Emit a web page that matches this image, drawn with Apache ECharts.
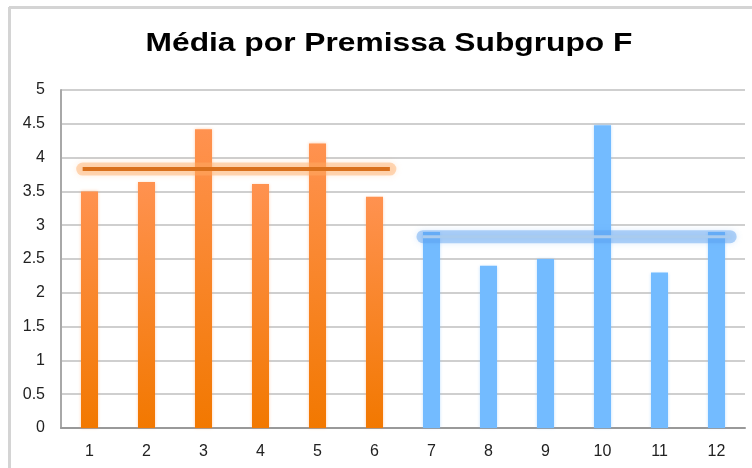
<!DOCTYPE html>
<html><head><meta charset="utf-8">
<script src="https://cdn.jsdelivr.net/npm/echarts@6/dist/echarts.min.js"></script>
<style>html,body{margin:0;padding:0;background:#fff}#c{width:752px;height:468px}</style>
</head><body><div id="c"></div>
<script>
var titleText = 'Média por Premissa Subgrupo F';
var categories = ['1','2','3','4','5','6','7','8','9','10','11','12'];
var groupA = [3.50, 3.64, 4.42, 3.61, 4.21, 3.42, null, null, null, null, null, null];
var groupB = [null, null, null, null, null, null, 2.90, 2.40, 2.50, 4.48, 2.30, 2.90];
var meanA = 3.83, meanB = 2.83;
var meanASpan = [-0.12, 5.27];
var meanBSpan = [5.85, 11.24];
var yTicks = [0, 0.5, 1, 1.5, 2, 2.5, 3, 3.5, 4, 4.5, 5];

var chart = echarts.init(document.getElementById('c'), null, {renderer:'canvas'});
var font = 'Liberation Sans, Arial, sans-serif';
function meanLine(span, val, glow, core, coreW){
  var d = [[span[0], val],[span[1], val]];
  return [
    {type:'line', xAxisIndex:1, data:d, symbol:'none', silent:true, z:5,
     lineStyle:{color:glow, width:13, cap:'round', shadowBlur:6, shadowColor:glow}},
    {type:'line', xAxisIndex:1, data:d, symbol:'none', silent:true, z:6,
     lineStyle:{color:core, width:coreW, cap:'butt'}}
  ];
}
var series = [
  {type:'bar', data:groupA, barWidth:17, barGap:'-100%', z:3,
   itemStyle:{color:new echarts.graphic.LinearGradient(0,0,0,1,[{offset:0,color:'#FF9250'},{offset:1,color:'#F27800'}]),
     shadowBlur:3, shadowColor:'rgba(255,150,80,0.45)'}},
  {type:'bar', data:groupB, barWidth:17, barGap:'-100%', z:3,
   itemStyle:{color:'#73BBFF', shadowBlur:3, shadowColor:'rgba(115,187,255,0.45)'}}
].concat(meanLine(meanASpan, meanA, 'rgba(255,170,100,0.45)', '#D9701C', 4))
 .concat(meanLine(meanBSpan, meanB, 'rgba(90,160,240,0.45)', '#A9CBEE', 3));

chart.setOption({
  animation:false,
  backgroundColor:'#fff',
  graphic:[
    {type:'line', shape:{x1:9,y1:7.5,x2:752,y2:7.5}, style:{stroke:'#D4D4D4', lineWidth:3}},
    {type:'line', shape:{x1:9.5,y1:7,x2:9.5,y2:468}, style:{stroke:'#D4D4D4', lineWidth:3}},
    {type:'text', x:389, y:57, scaleX:1.27, originX:0, originY:0,
     style:{text:titleText, font:'bold 25px ' + font, fill:'#000', textAlign:'center', textVerticalAlign:'bottom'}}
  ],
  grid:{left:61, right:7, top:90, bottom:40},
  xAxis:[
    {type:'category', data:categories,
     axisLine:{lineStyle:{color:'#999', width:2}}, axisTick:{show:false},
     axisLabel:{color:'#222', fontSize:16, fontFamily:font, margin:16}},
    {type:'value', min:-0.5, max:11.5, show:false}
  ],
  yAxis:{type:'value', min:0, max:5, interval:0.5,
     axisLine:{show:true, onZero:false, lineStyle:{color:'#A8A8A8', width:2}}, axisTick:{show:false},
     splitLine:{lineStyle:{color:'#CFCFCF', width:2}},
     axisLabel:{color:'#222', fontSize:16, fontFamily:font, margin:16,
       formatter:function(v){ return yTicks.indexOf(v) >= 0 ? String(v) : ''; }}},
  series:series
});
</script></body></html>
